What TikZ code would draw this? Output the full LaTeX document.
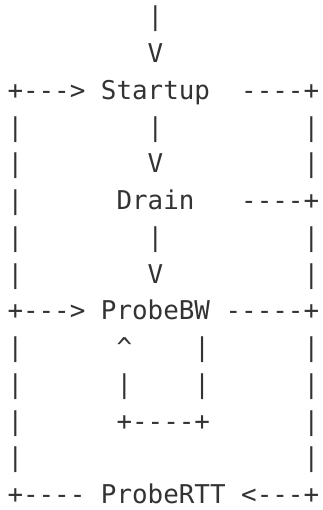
\documentclass[tikz,border=0pt]{standalone}
\usepackage{fontspec}
\setmonofont{DejaVu Sans Mono}
\definecolor{ink}{HTML}{333333}
\begin{document}
\begin{tikzpicture}[x=1pt,y=-1pt,
  asc/.style={anchor=base west,inner sep=0pt,outer sep=0pt,text=ink,
    font=\ttfamily\fontsize{25.88}{37}\selectfont}]
\useasboundingbox (0,0) rectangle (322,510);
\def\C#1{7.5+#1*15.58}
\def\R#1{26+(#1-1)*36.73}
% line 1-2
\node[asc] (a1) at ({\C{9}},{\R{1}}) {|};
\node[asc] (a2) at ({\C{9}},{\R{2}}) {V};
% line 3
\node[asc] (s0) at ({\C{0}},{\R{3}}) {+--->};
\node[asc] (startup) at ({\C{6}},{\R{3}}) {Startup};
\node[asc] (s1) at ({\C{15}},{\R{3}}) {----+};
% line 4-5
\node[asc] (l4a) at ({\C{0}},{\R{4}}) {|};
\node[asc] (l4b) at ({\C{9}},{\R{4}}) {|};
\node[asc] (l4c) at ({\C{19}},{\R{4}}) {|};
\node[asc] (l5a) at ({\C{0}},{\R{5}}) {|};
\node[asc] (l5b) at ({\C{9}},{\R{5}}) {V};
\node[asc] (l5c) at ({\C{19}},{\R{5}}) {|};
% line 6
\node[asc] (l6a) at ({\C{0}},{\R{6}}) {|};
\node[asc] (drain) at ({\C{7}},{\R{6}}) {Drain};
\node[asc] (l6c) at ({\C{15}},{\R{6}}) {----+};
% line 7-8
\node[asc] (l7a) at ({\C{0}},{\R{7}}) {|};
\node[asc] (l7b) at ({\C{9}},{\R{7}}) {|};
\node[asc] (l7c) at ({\C{19}},{\R{7}}) {|};
\node[asc] (l8a) at ({\C{0}},{\R{8}}) {|};
\node[asc] (l8b) at ({\C{9}},{\R{8}}) {V};
\node[asc] (l8c) at ({\C{19}},{\R{8}}) {|};
% line 9
\node[asc] (l9a) at ({\C{0}},{\R{9}}) {+--->};
\node[asc] (probebw) at ({\C{6}},{\R{9}}) {ProbeBW};
\node[asc] (l9c) at ({\C{14}},{\R{9}}) {-----+};
% line 10-13
\node[asc] (l10a) at ({\C{0}},{\R{10}}) {|};
\node[asc] (l10b) at ({\C{7}},{\R{10}}) {\^{}};
\node[asc] (l10c) at ({\C{12}},{\R{10}}) {|};
\node[asc] (l10d) at ({\C{19}},{\R{10}}) {|};
\node[asc] (l11a) at ({\C{0}},{\R{11}}) {|};
\node[asc] (l11b) at ({\C{7}},{\R{11}}) {|};
\node[asc] (l11c) at ({\C{12}},{\R{11}}) {|};
\node[asc] (l11d) at ({\C{19}},{\R{11}}) {|};
\node[asc] (l12a) at ({\C{0}},{\R{12}}) {|};
\node[asc] (l12b) at ({\C{7}},{\R{12}}) {+----+};
\node[asc] (l12d) at ({\C{19}},{\R{12}}) {|};
\node[asc] (l13a) at ({\C{0}},{\R{13}}) {|};
\node[asc] (l13d) at ({\C{19}},{\R{13}}) {|};
% line 14
\node[asc] (l14a) at ({\C{0}},{\R{14}}) {+----};
\node[asc] (probertt) at ({\C{6}},{\R{14}}) {ProbeRTT};
\node[asc] (l14c) at ({\C{15}},{\R{14}}) {<---+};
\end{tikzpicture}
\end{document}
